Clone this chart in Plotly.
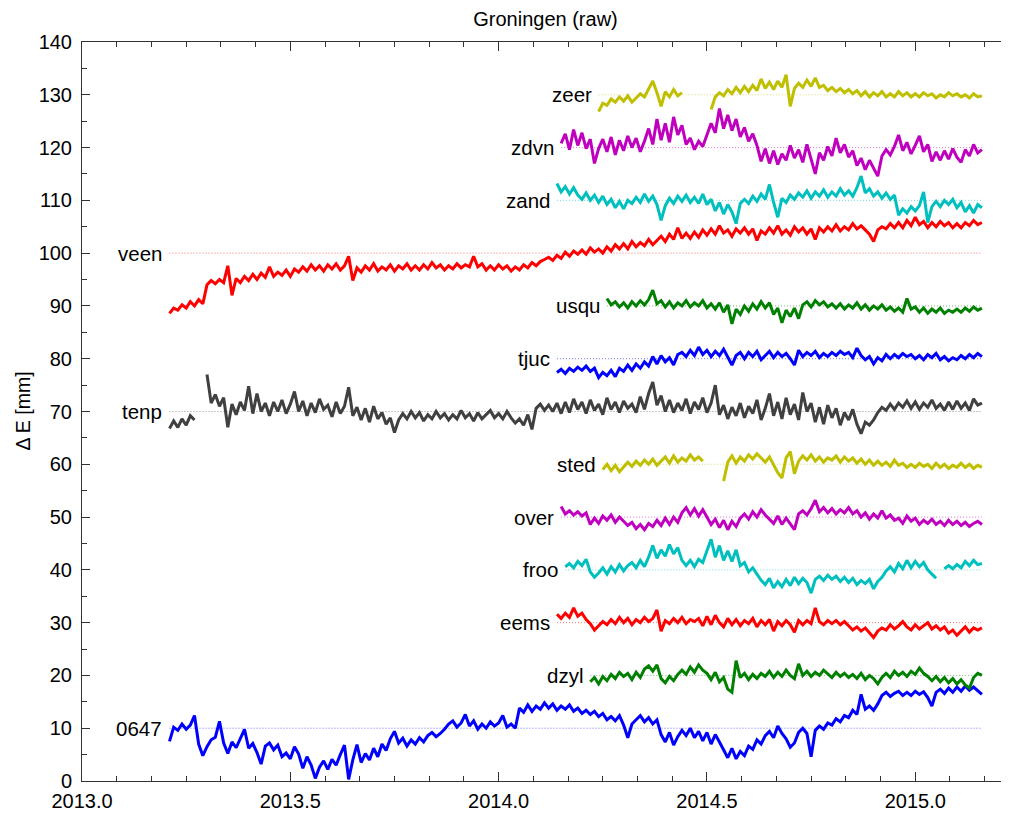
import numpy as np
import plotly.graph_objects as go

TITLE = "Groningen (raw)"
Y_TITLE = "Δ E [mm]"
STEP = 0.01  # sampling interval of the read-off values (years)

x_tick_vals = [2013.0, 2013.5, 2014.0, 2014.5, 2015.0]
x_tick_text = ["2013.0", "2013.5", "2014.0", "2014.5", "2015.0"]
y_tick_vals = [0, 10, 20, 30, 40, 50, 60, 70, 80, 90, 100, 110, 120, 130, 140]
y_tick_text = ["0", "10", "20", "30", "40", "50", "60", "70", "80", "90", "100", "110", "120", "130", "140"]

stations = ["0647", "dzyl", "eems", "froo", "over", "sted", "tenp",
            "tjuc", "usqu", "veen", "zand", "zdvn", "zeer"]
offsets = [10, 20, 30, 40, 50, 60, 70, 80, 90, 100, 110, 120, 130]
starts = [2013.21, 2014.22, 2014.14, 2014.16, 2014.15, 2014.25, 2013.21,
          2014.14, 2014.26, 2013.21, 2014.14, 2014.15, 2014.24]

v_0647 = [7.5, 10.2, 9.6, 10.8, 9.8, 10.6, 12.4, 7.0, 4.8,
          6.5, 7.8, 8.3, 11.3, 7.2, 5.2, 7.4, 6.3, 8.0, 9.8,
          6.2, 7.1, 5.4, 3.2, 6.6, 7.2, 5.9, 6.8, 4.6, 5.3,
          4.2, 6.5, 5.1, 2.4, 4.6, 3.0, 0.5, 2.6, 3.8, 2.2,
          4.1, 3.0, 5.0, 6.8, 0.3, 4.0, 6.9, 3.5, 5.2, 4.0,
          6.2, 4.6, 7.0, 5.8, 8.0, 9.4, 7.2, 8.1, 6.6, 7.8,
          7.0, 8.2, 7.4, 8.6, 9.2, 8.4, 9.0, 9.8, 10.8, 11.4,
          10.2, 11.0, 12.6, 10.4, 11.4, 9.8, 10.8, 10.0, 11.2, 10.4,
          11.0, 12.4, 10.2, 10.8, 10.0, 13.8, 13.0, 14.4, 13.2, 14.2,
          13.6, 14.8, 13.8, 14.6, 13.4, 14.2, 13.6, 14.4, 13.2, 13.8,
          12.8, 13.4, 12.6, 13.2, 12.2, 12.8, 11.6, 12.2, 11.4, 12.4,
          10.6, 8.2, 10.8, 11.6, 12.4, 11.2, 12.0, 10.8, 11.6, 8.8,
          7.4, 9.2, 6.8, 8.4, 9.6, 8.6, 10.0, 8.2, 9.4, 7.6,
          9.2, 7.0, 8.8, 7.4, 6.0, 4.4, 6.2, 4.2, 5.6, 4.8,
          6.6, 6.0, 7.8, 7.0, 8.6, 9.4, 8.2, 10.4, 9.0, 8.0,
          6.4, 7.2, 9.2, 10.0, 9.0, 4.6, 9.6, 10.4, 9.8, 11.0,
          10.6, 11.8, 11.2, 12.4, 12.0, 13.4, 12.6, 16.4, 13.6, 14.2,
          13.4, 14.6, 16.2, 16.8, 16.0, 16.6, 17.0, 16.2, 16.8, 16.2,
          17.0, 16.4, 16.9, 15.8, 14.2, 16.8, 17.4, 16.6, 17.6, 16.8,
          17.8, 17.0, 18.0, 17.2, 17.8, 17.0, 16.4]

v_dzyl = [18.8, 19.6, 18.4, 19.8, 19.0, 20.2, 19.4, 20.6, 19.8, 20.4,
          19.2, 20.6, 19.6, 21.2, 21.8, 20.8, 22.0, 19.4, 18.6, 19.8,
          19.0, 20.2, 21.0, 20.2, 21.6, 20.6, 22.0, 21.0, 20.4, 19.2,
          20.6, 18.8, 19.6, 17.4, 16.8, 22.8, 19.6, 20.4, 19.2, 20.2,
          19.4, 20.4, 19.8, 20.8, 19.6, 20.6, 19.8, 21.0, 20.0, 19.4,
          22.2, 20.0, 20.8, 19.8, 20.6, 20.0, 21.0, 20.2, 19.6, 20.6,
          19.8, 20.4, 19.6, 20.2, 19.4, 20.4, 19.2, 20.0, 19.4, 18.4,
          19.6, 20.4, 19.6, 20.8, 20.0, 20.6, 19.8, 20.8,
          20.2, 21.4, 20.4, 19.8, 19.0, 19.8, 18.8, 19.6, 18.6, 19.4,
          18.4, 19.2, 18.2, 17.6, 19.6, 20.4, 20.0]

v_eems = [31.6, 30.8, 31.8, 31.0, 32.8, 31.2, 31.8, 30.6, 29.8, 28.6,
          29.4, 30.2, 29.6, 30.6, 29.8, 31.0, 30.0, 30.8, 29.6, 30.6,
          30.0, 31.0, 30.2, 30.8, 32.4, 28.4, 30.4, 29.8, 30.8, 30.0,
          31.0, 29.8, 30.6, 30.2, 30.8, 29.4, 31.2, 29.6, 31.4, 30.0,
          29.2, 30.8, 29.6, 30.6, 29.4, 30.4, 29.8, 30.8, 29.2, 30.4,
          29.6, 30.6, 28.4, 30.2, 29.4, 30.4, 29.6, 28.2, 30.4, 29.6,
          30.4, 29.8, 32.8, 30.2, 29.6, 30.4, 29.8, 30.4, 29.6, 30.2,
          29.4, 28.6, 29.2, 28.4, 29.0, 28.2, 27.2, 28.4, 29.0, 28.6,
          29.6, 28.8, 29.4, 30.2, 29.2, 28.6,
          29.6, 28.8, 29.4, 30.0, 28.8, 29.4, 28.6, 29.2, 28.0, 28.6,
          27.6, 28.4, 29.2, 28.2, 29.0, 28.6, 29.0]

v_froo = [40.6, 41.2, 40.4, 41.6, 40.8, 42.0, 39.6, 38.6, 39.4, 40.4,
          39.2, 40.6, 39.6, 41.0, 39.8, 40.8, 41.4, 40.4, 41.8, 40.6,
          42.4, 44.6, 42.2, 43.8, 42.6, 44.8, 43.0, 44.2, 41.8, 40.8,
          41.8, 40.6, 42.0, 41.4, 43.6, 45.8, 42.4, 44.6, 41.8, 43.6,
          41.6, 43.8, 40.8, 41.4, 39.6, 40.4, 39.2, 38.0, 37.2, 38.4,
          36.6, 37.8, 36.8, 38.2, 37.0, 38.6, 37.4, 38.4, 37.6, 35.6,
          38.2, 38.8, 38.0, 39.0, 38.2, 38.8, 37.8, 38.6, 37.6, 38.4,
          37.2, 38.0, 37.4, 38.2, 36.4, 37.8, 38.6, 39.8, 40.6, 39.6,
          41.2, 40.2, 41.8, 40.4,
          41.6, 40.6, 41.4, 40.0, 39.2, 38.4, None, 40.2, 40.8, 40.2,
          41.0, 40.4, 41.6, 40.8, 41.8, 41.0, 41.2]

v_over = [52.0, 50.6, 51.2, 50.4, 51.0, 50.2, 50.8, 48.6, 49.8, 48.8,
          50.2, 49.4, 50.4, 49.0, 50.0, 49.2, 48.4, 49.0, 47.8, 48.6,
          47.6, 48.8, 48.2, 49.4, 48.4, 49.8, 48.6, 50.0, 49.0, 50.8,
          51.8, 50.4, 51.6, 50.2, 51.4, 50.0, 48.6, 49.6, 48.0, 49.4,
          47.6, 49.2, 48.2, 49.8, 50.6, 49.6, 51.0, 50.0, 51.4, 50.4,
          49.6, 48.8, 50.2, 48.6, 49.8, 48.8, 47.6, 50.6, 51.2, 50.4,
          51.6, 53.2, 51.0, 51.8, 50.8, 51.6, 50.6, 51.4, 50.8, 51.8,
          50.6, 51.2, 50.0, 50.8, 49.6, 50.6, 49.8, 51.2, 49.8, 50.4,
          49.4, 49.8, 48.8, 50.2, 49.2,
          49.8, 48.6, 49.4, 48.8, 49.6, 48.6, 49.2, 48.4, 49.4, 48.6,
          49.2, 48.4, 49.0, 48.2, 48.8, 49.2, 48.6]

v_sted = [59.0, 60.0, 58.8, 59.8, 58.6, 59.6, 60.4, 59.6, 60.6, 59.8,
          60.8, 60.0, 61.0, 59.8, 60.6, 61.4, 60.2, 61.6, 60.4, 61.2,
          60.6, 61.8, 60.8, 61.4, 60.6, None, None, None, None, 56.8,
          60.4, 61.6, 60.2, 61.4, 60.6, 61.8, 61.0, 62.0, 61.2, 60.4,
          61.4, 60.0, 58.4, 57.4, 61.2, 62.4, 58.2, 60.6, 61.6, 60.8,
          61.8, 60.6, 61.4, 60.4, 61.2, 60.8, 61.6, 60.4, 61.4, 60.6,
          61.2, 60.2, 61.0, 60.0, 60.8, 59.8, 60.6, 59.8, 60.4, 59.6,
          60.8, 59.8, 60.2, 59.4, 60.0,
          59.4, 60.2, 59.6, 60.0, 59.2, 60.2, 59.4, 60.0, 59.2, 59.8,
          59.4, 60.2, 59.4, 60.0, 59.2, 59.8, 59.4]

v_tenp = [66.8, 68.2, 67.0, 68.6, 67.4, 69.2, 68.4, None, None,
          77.0, 71.6, 73.2, 71.0, 72.6, 67.0, 71.4, 69.4, 71.8, 70.2,
          74.8, 69.6, 73.4, 70.0, 71.6, 69.2, 71.8, 70.0, 72.2, 69.6,
          71.4, 73.8, 70.0, 72.0, 69.2, 71.6, 69.8, 72.4, 70.4, 71.2,
          69.0, 71.8, 69.6, 71.0, 74.6, 69.2, 70.8, 68.4, 70.6, 68.0,
          71.0, 68.6, 69.8, 67.6, 68.8, 66.0, 68.4, 69.6, 68.6, 70.0,
          68.8, 69.8, 68.2, 69.4, 68.6, 70.0, 68.8, 69.6, 68.4, 69.4,
          68.6, 70.2, 68.8, 69.6, 68.2, 69.8, 68.6, 69.4, 70.2, 68.8,
          69.6, 68.6, 70.0, 68.8, 67.8, 68.6, 67.4, 69.4, 66.6, 70.6,
          71.4, 70.2, 71.2, 70.0, 71.6, 69.6, 71.8, 69.8, 72.4, 70.4,
          71.8, 69.6, 72.2, 70.2, 71.4, 69.4, 72.6, 70.4, 71.8, 69.8,
          72.0, 70.6, 71.4, 69.8, 72.8, 70.4, 73.4, 75.6, 71.2, 73.0,
          70.0, 72.2, 69.8, 71.6, 70.2, 72.4, 69.6, 71.8, 70.4, 72.6,
          69.8, 71.6, 75.0, 69.4, 71.2, 68.6, 70.8, 69.2, 71.6, 68.8,
          71.0, 69.6, 72.2, 68.4, 70.6, 73.4, 69.2, 71.8, 68.6, 72.6,
          69.4, 71.4, 68.4, 73.6, 70.0, 71.6, 68.0, 70.8, 67.6, 71.2,
          68.8, 70.6, 67.4, 69.8, 68.4, 70.4, 67.6, 65.8, 68.0, 67.4,
          68.4, 69.8, 70.8, 70.2, 71.4, 70.4, 71.6, 70.8, 72.0, 70.6,
          71.8, 70.4, 71.6, 70.8, 72.2, 70.6, 71.4, 70.2, 71.8, 70.4,
          72.0, 70.6, 71.6, 70.2, 72.4, 71.2, 71.6]

v_tjuc = [77.4, 78.0, 77.2, 78.2, 77.6, 78.4, 77.8, 78.6, 77.6, 78.2,
          76.4, 77.4, 76.8, 77.8, 76.6, 78.2, 77.6, 78.8, 77.8, 79.0,
          78.2, 79.4, 78.6, 80.4, 79.0, 80.6, 79.4, 80.2, 78.8, 80.8,
          81.2, 80.4, 81.6, 80.6, 82.2, 80.8, 81.6, 80.4, 81.4, 80.6,
          81.8, 80.4, 78.8, 80.6, 81.2, 80.0, 81.2, 80.4, 81.4, 79.8,
          80.6, 81.4, 80.2, 81.2, 80.4, 81.0, 80.0, 78.8, 81.6, 80.4,
          81.2, 80.6, 81.4, 80.2, 81.0, 80.4, 81.2, 80.6, 81.4, 80.8,
          81.2, 80.2, 82.0, 80.6, 79.8, 80.4, 79.0, 80.2, 79.6, 80.8,
          80.0, 80.8, 80.2, 81.0, 80.4, 80.8,
          80.0, 80.6, 79.8, 80.8, 80.2, 81.0, 79.8, 80.4, 79.6, 80.2,
          79.8, 80.6, 80.0, 80.8, 80.2, 81.0, 80.4]

v_usqu = [91.4, 90.2, 90.8, 89.8, 90.6, 89.6, 90.8, 90.0, 91.0, 90.2,
          91.2, 93.0, 90.4, 91.0, 89.8, 90.8, 89.6, 90.6, 90.0, 91.0,
          89.8, 90.6, 90.0, 91.0, 89.6, 90.4, 89.4, 90.6, 88.8, 90.2,
          86.6, 89.4, 88.4, 90.0, 89.0, 90.4, 89.4, 90.8, 89.6, 90.6,
          88.4, 89.6, 86.8, 89.2, 88.0, 89.6, 87.6, 90.2, 90.8, 89.8,
          91.0, 90.2, 90.8, 89.8, 90.4, 89.6, 90.4, 89.4, 90.2, 89.6,
          90.6, 89.4, 90.2, 89.2, 90.0, 89.4, 90.2, 89.2, 89.8, 89.0,
          89.6, 88.8, 91.4, 89.4,
          89.8, 88.8, 89.6, 88.6, 89.4, 88.8, 89.6, 88.6, 89.2, 88.8,
          89.4, 88.8, 89.6, 89.0, 89.8, 89.2, 89.6]

v_veen = [88.6, 89.6, 89.2, 90.2, 89.6, 90.8, 90.0, 91.2, 90.4,
          94.0, 94.8, 94.2, 95.0, 94.4, 97.6, 92.0, 95.2, 94.4, 95.6,
          94.8, 96.0, 95.0, 96.2, 95.4, 97.4, 95.6, 96.4, 95.8, 96.8,
          95.6, 97.0, 96.4, 97.4, 96.6, 97.8, 96.8, 97.6, 96.6, 97.8,
          97.0, 98.0, 96.8, 97.6, 99.4, 94.8, 97.2, 96.4, 97.6, 96.8,
          98.0, 96.6, 97.4, 96.8, 97.8, 96.6, 97.6, 97.0, 98.0, 96.8,
          97.6, 96.8, 97.8, 97.0, 98.2, 97.2, 97.8, 96.8, 97.6, 97.0,
          98.0, 97.2, 97.8, 97.4, 99.4, 97.4, 98.0, 96.8, 97.6, 96.8,
          97.8, 97.0, 97.6, 96.6, 97.4, 96.8, 97.8, 97.2, 98.2, 97.6,
          98.4, 98.8, 99.2, 98.6, 99.6, 99.0, 100.2, 99.4, 100.4, 99.8,
          100.6, 99.8, 101.0, 100.2, 100.8, 100.0, 101.2, 100.4, 101.6, 100.8,
          101.8, 100.8, 102.2, 101.2, 102.0, 101.4, 102.6, 101.6, 102.4, 103.2,
          102.2, 103.6, 102.6, 104.8, 102.8, 103.8, 102.8, 104.0, 103.0, 104.4,
          103.4, 104.6, 103.6, 105.2, 103.8, 104.4, 103.2, 104.6, 103.8, 104.8,
          103.6, 104.6, 102.4, 104.2, 103.6, 104.8, 103.8, 105.2, 103.6, 104.4,
          103.4, 105.0, 104.0, 104.8, 103.6, 104.6, 102.6, 104.8, 104.0, 105.0,
          104.2, 105.4, 104.2, 105.0, 104.4, 105.6, 104.6, 105.2, 104.4, 103.6,
          102.2, 104.4, 105.0, 104.6, 105.6, 104.8, 105.8, 104.8, 106.2, 105.2,
          106.8, 105.4, 106.0, 104.8, 105.8, 105.0, 106.0, 105.2, 105.8, 104.8,
          105.6, 104.8, 105.8, 105.2, 106.2, 105.4, 105.8]

v_zand = [113.2, 111.6, 112.6, 111.2, 112.4, 111.0, 110.2, 111.4, 110.0, 111.0,
          109.6, 110.8, 109.2, 110.2, 108.6, 109.8, 108.4, 110.0, 109.4, 110.6,
          109.6, 111.2, 109.8, 110.8, 109.2, 106.2, 109.0, 110.4, 109.4, 110.8,
          109.8, 111.0, 109.6, 110.6, 109.4, 111.2, 109.2, 110.2, 108.0, 109.6,
          107.4, 109.2, 107.8, 105.6, 109.4, 110.2, 109.4, 110.8, 109.8, 111.2,
          110.2, 113.0, 109.6, 106.8, 110.4, 109.6, 111.0, 110.2, 111.4, 110.6,
          111.8, 110.4, 111.6, 110.8, 112.0, 110.6, 111.6, 110.8, 112.2, 111.0,
          111.8, 110.8, 112.4, 114.6, 111.4, 112.2, 110.8, 111.6, 110.4, 111.4,
          110.2, 111.0, 107.2, 108.4, 107.6, 108.8,
          108.0, 109.0, 111.6, 105.8, 108.8, 109.8, 108.8, 110.0, 109.2, 110.2,
          108.6, 109.6, 107.8, 109.0, 107.6, 109.2, 108.6]

v_zdvn = [120.8, 122.6, 119.6, 123.4, 120.4, 122.8, 119.8, 121.6, 117.0, 119.8,
          121.6, 119.2, 122.0, 118.6, 121.4, 119.4, 122.2, 120.0, 121.8, 119.2,
          121.2, 123.6, 120.6, 125.4, 121.4, 124.6, 121.0, 125.8, 122.4, 124.2,
          120.6, 121.8, 119.6, 121.2, 120.2, 122.4, 124.6, 122.8, 127.4, 123.6,
          126.2, 123.2, 125.4, 122.0, 123.8, 121.2, 122.6, 120.4, 117.4, 119.8,
          117.0, 119.4, 116.8, 118.8, 117.6, 120.4, 118.0, 119.6, 117.2, 120.6,
          117.8, 115.0, 119.0, 117.6, 120.2, 118.4, 121.8, 119.0, 120.6, 118.2,
          119.4, 116.6, 118.0, 115.8, 117.6, 116.0, 114.6, 118.4, 119.6, 118.6,
          120.2, 122.4, 119.4, 121.0, 118.8,
          120.4, 122.2, 119.2, 120.6, 117.4, 119.2, 117.6, 119.4, 117.8, 119.8,
          118.2, 117.2, 119.6, 118.4, 120.6, 119.0, 119.6]

v_zeer = [126.8, 128.4, 128.0, 129.2, 128.6, 129.6, 128.8, 129.8, 128.6, 129.4,
          130.2, 129.6, 131.0, 132.6, 130.4, 127.8, 130.6, 129.6, 131.0, 129.8,
          130.4, None, None, None, None, None, None, 127.2, 129.6, 130.4,
          129.8, 131.0, 130.2, 131.4, 130.4, 131.6, 130.6, 131.8, 130.8, 133.0,
          131.2, 132.4, 131.0, 132.6, 131.4, 133.8, 127.8, 131.2, 132.2, 131.4,
          132.8, 131.6, 133.2, 131.4, 131.8, 130.8, 131.4, 130.6, 131.2, 130.4,
          131.0, 130.2, 130.8, 129.8, 130.6, 129.6, 130.4, 129.8, 130.6, 129.6,
          130.2, 129.6, 130.6, 129.8, 130.4, 129.6,
          130.2, 129.6, 130.4, 129.8, 130.2, 129.4, 130.0, 129.6, 130.4, 129.8,
          130.2, 129.6, 130.0, 129.4, 130.2, 129.6, 129.8]

values = [v_0647, v_dzyl, v_eems, v_froo, v_over, v_sted, v_tenp,
          v_tjuc, v_usqu, v_veen, v_zand, v_zdvn, v_zeer]

# styling
COL = {"blue": "#0000ff", "green": "#008000", "red": "#ff0000",
       "cyan": "#00bfbf", "magenta": "#bf00bf", "yellow": "#bfbf00",
       "gray": "#404040"}
colors = [COL["blue"], COL["green"], COL["red"], COL["cyan"], COL["magenta"],
          COL["yellow"], COL["gray"], COL["blue"], COL["green"], COL["red"],
          COL["cyan"], COL["magenta"], COL["yellow"]]
FONT = "Liberation Sans, Arial, Helvetica, sans-serif"
AXC = "#333333"

# the page body adds an 8 px margin; the figure is sized so the plot lands
# where the reference has it inside the 1009x814 window
PAGE_PAD = 8
W, H = 1009 - PAGE_PAD, 814 - PAGE_PAD

fig = go.Figure()
annotations = []
for name, off, s, vals, c in zip(stations, offsets, starts, values, colors):
    xs = np.round(s + STEP * np.arange(len(vals)), 3)
    fig.add_trace(go.Scatter(x=[xs[0], xs[-1]], y=[off, off], mode="lines",
                             line=dict(color=c, width=1, dash="1px,2px"),
                             opacity=0.55, hoverinfo="skip", showlegend=False))
    fig.add_trace(go.Scatter(x=xs, y=vals, mode="lines", name=name,
                             line=dict(color=c, width=3),
                             connectgaps=False, showlegend=False))
    annotations.append(dict(x=xs[0], y=off, xref="x", yref="y", text=name,
                            showarrow=False, xanchor="right", yanchor="middle",
                            xshift=-5, font=dict(family=FONT, size=20.5, color="black")))

plot_w = W - (82 - PAGE_PAD)
annotations.append(dict(x=-(82 - 22) / plot_w, y=0.5, xref="paper", yref="paper",
                        text=Y_TITLE, textangle=-90, showarrow=False,
                        xanchor="center", yanchor="middle",
                        font=dict(family=FONT, size=19.5, color="black")))

x_minor = [2013 + m / 12 for m in range(0, 28)]
y_minor = [v + 5 for v in y_tick_vals[:-1]]

fig.update_layout(
    width=W, height=H,
    margin=dict(l=82 - PAGE_PAD, r=0, t=42 - PAGE_PAD, b=33, autoexpand=False),
    paper_bgcolor="white", plot_bgcolor="white",
    showlegend=False,
    title=dict(text=TITLE, x=0.5, xref="paper", xanchor="center",
               y=1 - (18.5 - PAGE_PAD) / H, yref="container", yanchor="middle",
               font=dict(family=FONT, size=20, color="black")),
    annotations=annotations,
    xaxis=dict(range=[2013.0, 2015.225], tickmode="array",
               tickvals=x_tick_vals, ticktext=x_tick_text,
               ticks="inside", ticklen=9, tickwidth=1, tickcolor=AXC,
               showline=True, linecolor=AXC, linewidth=1, mirror="ticks",
               showgrid=False, zeroline=False, ticklabelstandoff=2,
               automargin=False,
               tickfont=dict(family=FONT, size=20, color="black"),
               minor=dict(tickmode="array", tickvals=x_minor, ticks="inside",
                          ticklen=5, tickcolor=AXC, showgrid=False)),
    yaxis=dict(range=[0, 140], tickmode="array",
               tickvals=y_tick_vals, ticktext=y_tick_text,
               ticks="inside", ticklen=8, tickwidth=1, tickcolor=AXC,
               showline=True, linecolor=AXC, linewidth=1,
               showgrid=False, zeroline=False, ticklabelstandoff=5,
               automargin=False,
               tickfont=dict(family=FONT, size=20, color="black"),
               minor=dict(tickmode="array", tickvals=y_minor, ticks="inside",
                          ticklen=5, tickcolor=AXC, showgrid=False)),
)

fig.write_html("out.html")
